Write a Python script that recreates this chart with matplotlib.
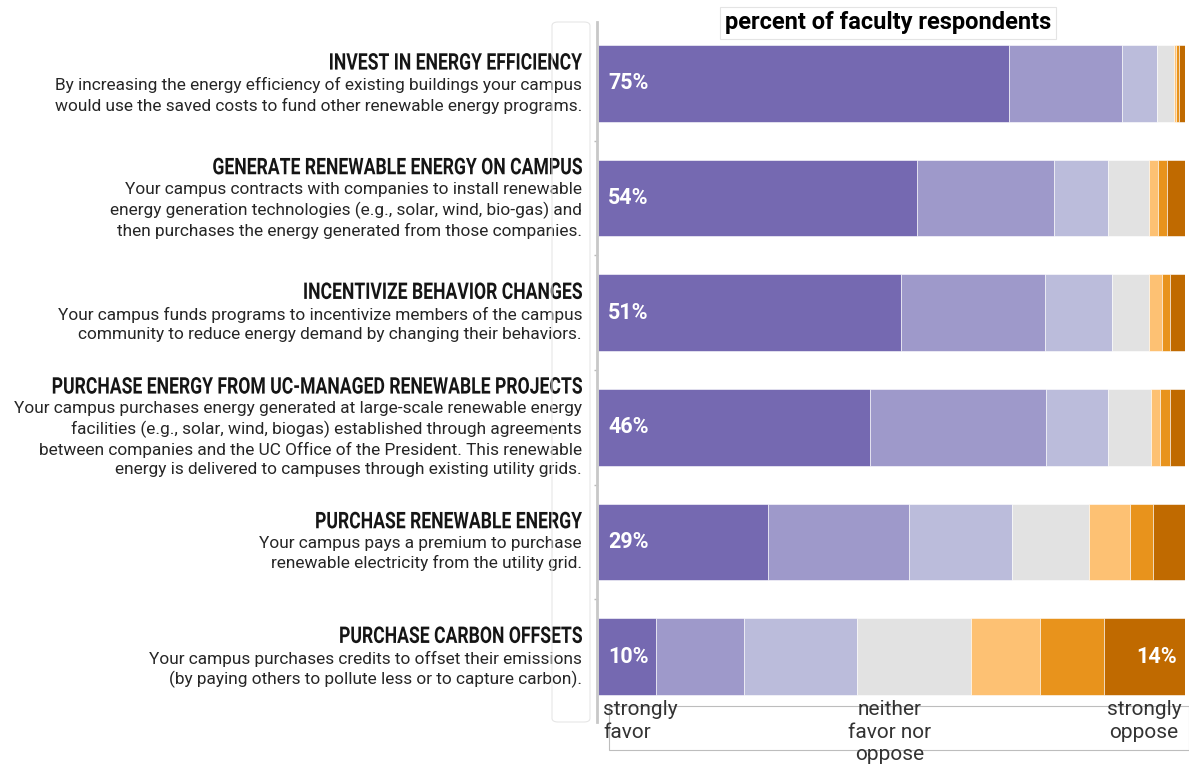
import matplotlib.pyplot as plt
import matplotlib.transforms as mtransforms
from matplotlib.patches import Rectangle, FancyBboxPatch, PathPatch
from matplotlib.lines import Line2D
from matplotlib.textpath import TextPath
from matplotlib.font_manager import FontProperties

# answer categories, strongly favor -> strongly oppose
levels = ["strongly favor", "favor", "somewhat favor", "neither favor nor oppose",
          "somewhat oppose", "oppose", "strongly oppose"]
colors = ["#7569b1", "#9e99ca", "#bbbcdb", "#e2e2e2", "#fdc173", "#e8931c", "#c06a00"]

headings = [
    "INVEST IN ENERGY EFFICIENCY",
    "GENERATE RENEWABLE ENERGY ON CAMPUS",
    "INCENTIVIZE BEHAVIOR CHANGES",
    "PURCHASE ENERGY FROM UC-MANAGED RENEWABLE PROJECTS",
    "PURCHASE RENEWABLE ENERGY",
    "PURCHASE CARBON OFFSETS",
]
descriptions = [
    "By increasing the energy efficiency of existing buildings your campus\n"
    "would use the saved costs to fund other renewable energy programs.",
    "Your campus contracts with companies to install renewable\n"
    "energy generation technologies (e.g., solar, wind, bio-gas) and\n"
    "then purchases the energy generated from those companies.",
    "Your campus funds programs to incentivize members of the campus\n"
    "community to reduce energy demand by changing their behaviors.",
    "Your campus purchases energy generated at large-scale renewable energy\n"
    "facilities (e.g., solar, wind, biogas) established through agreements\n"
    "between companies and the UC Office of the President. This renewable\n"
    "energy is delivered to campuses through existing utility grids.",
    "Your campus pays a premium to purchase\n"
    "renewable electricity from the utility grid.",
    "Your campus purchases credits to offset their emissions\n"
    "(by paying others to pollute less or to capture carbon).",
]

# percent of respondents per level (one list per level, one value per option)
strongly_favor = [70.0, 54.3, 51.7, 46.4, 28.9, 9.8]
favor = [19.2, 23.3, 24.4, 30.0, 24.1, 15.0]
somewhat_favor = [6.1, 9.3, 11.5, 10.4, 17.5, 19.4]
neither = [2.9, 7.0, 6.2, 7.4, 13.2, 19.4]
somewhat_oppose = [0.3, 1.5, 2.3, 1.6, 7.0, 11.7]
oppose = [0.5, 1.6, 1.4, 1.6, 3.8, 10.9]
strongly_oppose = [1.0, 3.0, 2.5, 2.6, 5.5, 13.8]

favor_labels = ["75%", "54%", "51%", "46%", "29%", "10%"]
oppose_labels = ["", "", "", "", "", "14%"]

series = [strongly_favor, favor, somewhat_favor, neither,
          somewhat_oppose, oppose, strongly_oppose]

W, H = 1189, 766
DPI = 100
fig = plt.figure(figsize=(W / DPI, H / DPI), dpi=DPI)
ax = fig.add_axes([598 / W, 1 - 714 / H, 587 / W, 688 / H])

rows = list(range(len(headings)))
left = [0.0] * len(rows)
for vals, col in zip(series, colors):
    ax.barh(rows, vals, left=left, height=0.67, color=col,
            edgecolor="white", linewidth=0.4)
    left = [l + v for l, v in zip(left, vals)]

ax.set_xlim(0, 100)
ax.set_ylim(len(rows) - 0.5, -0.5)
for s in ax.spines.values():
    s.set_visible(False)
ax.set_xticks([])
ax.set_yticks([])
ax.set_yticks([r + 0.5 for r in rows[:-1]], minor=True)
ax.tick_params(axis="y", which="minor", length=3, color="#bbbbbb", width=1)

body_font = ["Roboto", "DejaVu Sans"]

for r in rows:
    ax.text(1.7, r, favor_labels[r], color="white", fontsize=15.5,
            fontweight="bold", va="center", ha="left", family=body_font)
    if oppose_labels[r]:
        ax.text(98.7, r, oppose_labels[r], color="white", fontsize=15.5,
                fontweight="bold", va="center", ha="right", family=body_font)

# headings: condensed look by squeezing bold glyph outlines horizontally
head_prop = FontProperties(family="Roboto", weight="bold")
head_size = 16.5
ref_w = TextPath((0, 0), headings[0], size=head_size, prop=head_prop).get_extents().width
squeeze = (252 * 72 / DPI) / ref_w

blend = mtransforms.blended_transform_factory(fig.transFigure, ax.transData)
px = 72 / DPI  # points per pixel
for r in rows:
    n = descriptions[r].count("\n") + 1
    head_off = (24 + (n - 1) * 20) / 2
    anchor = blend.transform((582 / W, r))
    tp = TextPath((0, 0), headings[r], size=head_size, prop=head_prop)
    ext = tp.get_extents()
    tr = (mtransforms.Affine2D()
          .translate(-ext.x1, -head_size * 0.36)
          .scale(squeeze, 1)
          .translate(0, head_off * px)
          .scale(DPI / 72)
          .translate(*anchor))
    fig.add_artist(PathPatch(tp, transform=tr, fc="#151515", ec="none"))
    ax.annotate(descriptions[r], xy=(582 / W, r), xycoords=blend,
                xytext=(0, (head_off - 16) * px), textcoords="offset points",
                ha="right", va="top", fontsize=12.4, family=body_font,
                color="#262626", linespacing=1.32, annotation_clip=False)

# title
fig.text(888 / W, 1 - 23 / H, "percent of faculty respondents", ha="center",
         va="center", fontsize=17, fontweight="bold", family=body_font,
         bbox=dict(boxstyle="square,pad=0.2", fc="white", ec="#e4e4e4", lw=0.8))

# bottom scale labels
lab_kw = dict(va="top", fontsize=15, family=body_font, color="#333333",
              linespacing=1.24)
fig.text(603 / W, 1 - 700 / H, "strongly\nfavor", ha="left", **lab_kw)
fig.text(890 / W, 1 - 700 / H, "neither\nfavor nor\noppose", ha="center", **lab_kw)
fig.text(1144 / W, 1 - 700 / H, "strongly\noppose", ha="center", **lab_kw)

# screenshot frame bits
fig.add_artist(Rectangle((609 / W, 1 - 750 / H), 580 / W, 44 / H,
                         transform=fig.transFigure, fill=False,
                         ec="#bdbdbd", lw=0.8))
fig.add_artist(FancyBboxPatch((552 / W, 1 - 722 / H), 38 / W, 700 / H,
                              boxstyle="round,pad=0,rounding_size=0.005",
                              transform=fig.transFigure, fill=False,
                              ec="#e6e6e6", lw=0.8))
fig.add_artist(Line2D([597 / W, 597 / W], [1 - 22 / H, 1 - 722 / H],
                      transform=fig.transFigure, color="#c8c8c8", lw=2))

fig.savefig("out.png", dpi=DPI)
